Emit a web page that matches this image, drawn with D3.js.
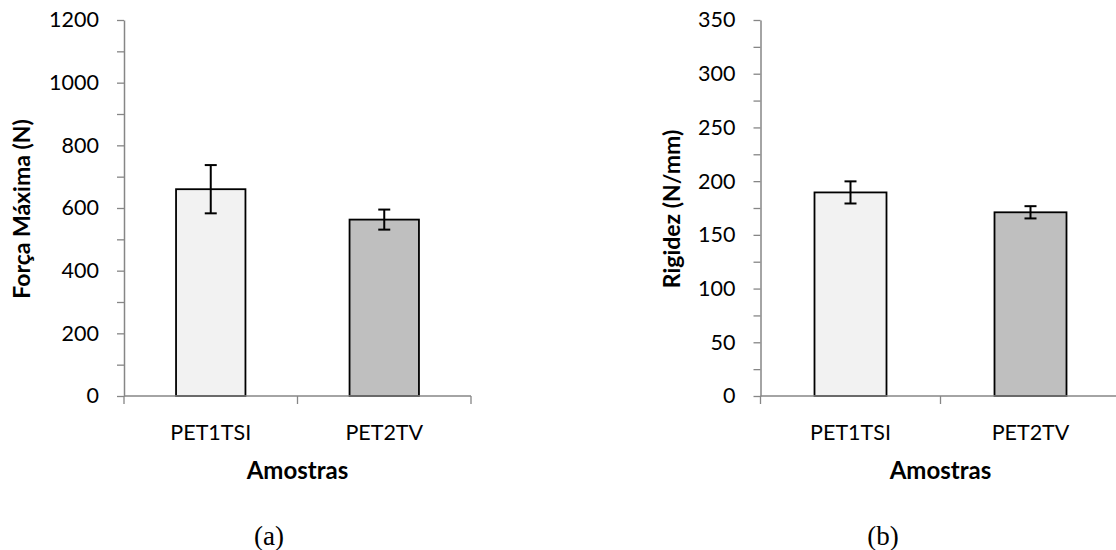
<!DOCTYPE html>
<html>
<head>
<meta charset="utf-8">
<script src="https://cdn.jsdelivr.net/npm/d3@7"></script>
<style>
  html, body { margin: 0; padding: 0; background: #fff; }
  svg { display: block; }
  text { font-family: Lato, "Noto Sans", sans-serif; fill: #000; }
</style>
</head>
<body>
<svg id="chart" width="1116" height="550"></svg>
<script>
// Sample names
const categories = ["PET1TSI", "PET2TV"];

// (a) maximum force, N: mean and standard deviation
const forceMeans = [660, 563];
const forceErrors = [77, 32];
const forceTicks = [0, 200, 400, 600, 800, 1000, 1200];
const forceMinorTicks = [100, 300, 500, 700, 900, 1100];

// (b) stiffness, N/mm: mean and standard deviation
const stiffMeans = [189.5, 171];
const stiffErrors = [10.3, 5.7];
const stiffTicks = [0, 50, 100, 150, 200, 250, 300, 350];
const stiffMinorTicks = [25, 75, 125, 175, 225, 275, 325];

const barFills = ["#f2f2f2", "#bfbfbf"];
const axisColor = "#868686";

const svg = d3.select("#chart");

function drawPanel(opts) {
  const g = svg.append("g");
  const { left, right, top, bottom } = opts;

  const y = d3.scaleLinear().domain([0, d3.max(opts.ticks)]).range([bottom, top]);
  const x = d3.scaleBand().domain(categories).range([left, right])
    .paddingInner(0.6).paddingOuter(0.3);
  const step = x.step();

  // minor y ticks
  g.append("g")
    .attr("transform", `translate(${left},0)`)
    .call(d3.axisLeft(y).tickValues(opts.minor).tickSize(7).tickFormat(""))
    .call(a => a.select(".domain").remove())
    .call(a => a.selectAll("line").attr("stroke", axisColor).attr("stroke-width", 1.3));

  // major y ticks with labels
  g.append("g")
    .attr("transform", `translate(${left},0)`)
    .call(d3.axisLeft(y).tickValues(opts.ticks).tickSize(7).tickSizeOuter(0).tickPadding(18).tickFormat(d3.format("d")))
    .call(a => a.select(".domain").attr("stroke", axisColor).attr("stroke-width", 1.5))
    .call(a => a.selectAll("line").attr("stroke", axisColor).attr("stroke-width", 1.3))
    .call(a => a.selectAll("text").style("font-family", "Lato").style("font-size", "21.5px").attr("fill", "#000"));

  // bars
  g.selectAll("rect.bar")
    .data(categories)
    .join("rect")
    .attr("class", "bar")
    .attr("x", d => x(d))
    .attr("width", x.bandwidth())
    .attr("y", (d, i) => y(opts.means[i]))
    .attr("height", (d, i) => y(0) - y(opts.means[i]))
    .attr("fill", (d, i) => barFills[i])
    .attr("stroke", "#000")
    .attr("stroke-width", 1.8);

  // x axis line with tick marks between categories
  const xBoundaries = d3.range(categories.length + 1).map(i => left + i * step);
  g.append("line")
    .attr("x1", left).attr("x2", right)
    .attr("y1", y(0)).attr("y2", y(0))
    .attr("stroke", axisColor).attr("stroke-width", 1.5);
  g.selectAll("line.xtick")
    .data(xBoundaries)
    .join("line")
    .attr("class", "xtick")
    .attr("x1", d => d).attr("x2", d => d)
    .attr("y1", y(0)).attr("y2", y(0) + 8)
    .attr("stroke", axisColor).attr("stroke-width", 1.3);

  // error bars
  const cx = d => x(d) + x.bandwidth() / 2;
  const eb = g.selectAll("g.err")
    .data(categories)
    .join("g")
    .attr("class", "err")
    .attr("stroke", "#000")
    .attr("stroke-width", 2);
  eb.append("line")
    .attr("x1", cx).attr("x2", cx)
    .attr("y1", (d, i) => y(opts.means[i] + opts.errors[i]))
    .attr("y2", (d, i) => y(opts.means[i] - opts.errors[i]));
  eb.append("line")
    .attr("x1", d => cx(d) - 6).attr("x2", d => cx(d) + 6)
    .attr("y1", (d, i) => y(opts.means[i] + opts.errors[i]))
    .attr("y2", (d, i) => y(opts.means[i] + opts.errors[i]));
  eb.append("line")
    .attr("x1", d => cx(d) - 6).attr("x2", d => cx(d) + 6)
    .attr("y1", (d, i) => y(opts.means[i] - opts.errors[i]))
    .attr("y2", (d, i) => y(opts.means[i] - opts.errors[i]));

  // category labels
  g.selectAll("text.cat")
    .data(categories)
    .join("text")
    .attr("class", "cat")
    .attr("x", cx)
    .attr("y", 440)
    .attr("text-anchor", "middle")
    .style("font-size", "21.5px")
    .text(d => d);

  // x axis title
  g.append("text")
    .attr("x", left + step)
    .attr("y", 479)
    .attr("text-anchor", "middle")
    .style("font-size", "24px")
    .style("font-weight", "bold")
    .text("Amostras");

  // y axis title
  g.append("text")
    .attr("transform", `translate(${opts.titleX},${(top + bottom) / 2 + 1}) rotate(-90)`)
    .attr("text-anchor", "middle")
    .attr("dy", "0.35em")
    .style("font-size", "23px")
    .style("font-weight", "bold")
    .text(opts.title);

  // panel caption
  svg.append("text")
    .attr("x", opts.captionX)
    .attr("y", 545)
    .attr("text-anchor", "middle")
    .style("font-family", "'Liberation Serif', 'Times New Roman', serif")
    .style("font-size", "27px")
    .text(opts.caption);
}

drawPanel({
  left: 124, right: 471, top: 20, bottom: 396,
  means: forceMeans, errors: forceErrors,
  ticks: forceTicks, minor: forceMinorTicks,
  title: "Força Máxima (N)", titleX: 22,
  caption: "(a)", captionX: 269
});

drawPanel({
  left: 760.5, right: 1120.5, top: 20, bottom: 396,
  means: stiffMeans, errors: stiffErrors,
  ticks: stiffTicks, minor: stiffMinorTicks,
  title: "Rigidez (N/mm)", titleX: 672,
  caption: "(b)", captionX: 883
});
</script>
</body>
</html>
